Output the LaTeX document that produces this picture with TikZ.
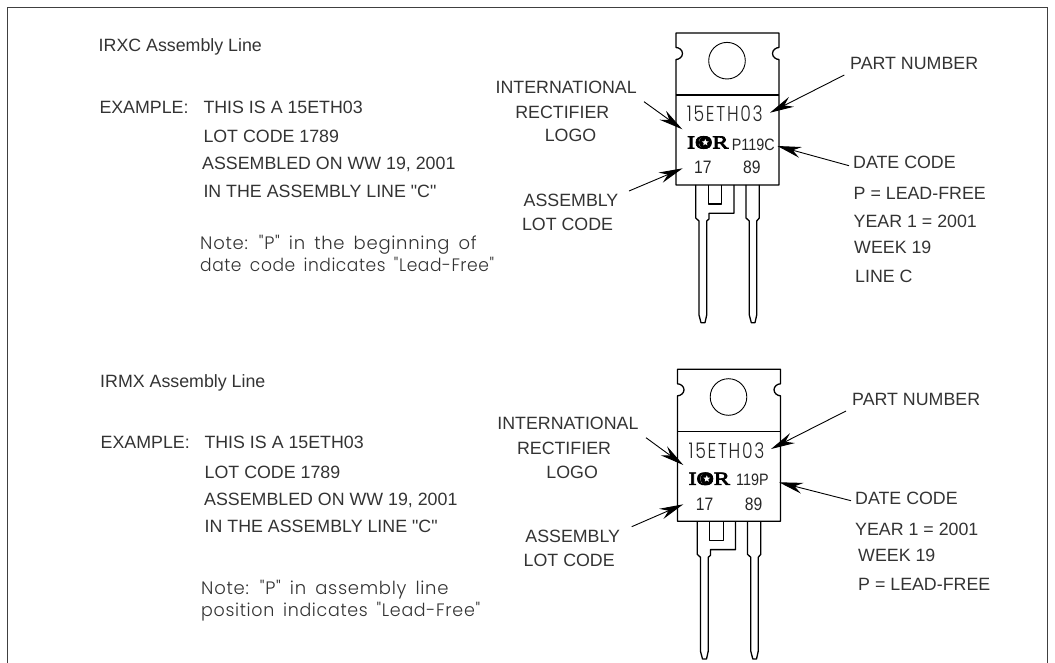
\documentclass[tikz,border=0pt]{standalone}
\usepackage{fontspec}
\newfontfamily\labelfont{Liberation Sans}
\newfontfamily\markfont[FakeStretch=0.87]{Liberation Sans}
\newfontfamily\notefont[LetterSpace=4,WordSpace=1.6]{Poppins Light}
\newfontfamily\notefontb[FakeStretch=0.95,LetterSpace=3,WordSpace=1.6]{Poppins Light}
\newfontfamily\notefontd[FakeStretch=0.97,LetterSpace=3.8,WordSpace=1.6]{Poppins Light}
\newfontfamily\cadfont[FakeStretch=0.8,LetterSpace=8]{Poppins Light}
\newfontfamily\logofont[FakeBold=4,FakeStretch=1.3]{Liberation Serif}
\usetikzlibrary{arrows.meta}
\usetikzlibrary{shapes.geometric}

\begin{document}
\begin{tikzpicture}[x=1pt, y=-1pt,
plaintext/.style={anchor=base west, inner sep=0pt, text=black!80, font=\labelfont\fontsize{17.8}{18}\selectfont},
midtext/.style={plaintext, anchor=base},
notetext/.style={anchor=base west, inner sep=0pt, text=black!80, font=\notefont\fontsize{18}{18}\selectfont},
notetextb/.style={notetext, font=\notefontb\fontsize{18}{18}\selectfont},
notetextd/.style={notetext, font=\notefontd\fontsize{18}{18}\selectfont},
marktext/.style={anchor=base west, inner sep=0pt, text=black!85, font=\markfont\fontsize{16.5}{17}\selectfont},
digittext/.style={marktext, font=\markfont\fontsize{18}{18}\selectfont},
cadtext/.style={anchor=base west, inner sep=0pt, text=black!85, font=\cadfont\fontsize{21.5}{22}\selectfont},
callout/.style={line width=0.9pt, arrows={-Stealth[length=24pt, width=11pt, inset=8pt]}},
outline/.style={line width=1.3pt, line join=round},
pics/topack/.style={code={
  % tab and body
  \draw[outline] (0,0) -- (103,0) -- (103,14.5)
    .. controls (100,14.5) and (96.5,17) .. (96.5,20.5)
    .. controls (96.5,24) and (100,26.5) .. (103,26.5)
    -- (103,152) -- (0,152) -- (0,26.5)
    .. controls (3,26.5) and (6.5,24) .. (6.5,20.5)
    .. controls (6.5,17) and (3,14.5) .. (0,14.5) -- cycle;
  \draw[outline] (0,62) -- (103,62);
  \draw[line width=0.9pt] (51,27.7) circle (18.3);
  % leads
  \draw[outline] (19.7,152) -- (19.7,185) -- (23,188) -- (23,282) -- (25,289.7) -- (29,289.7)
    -- (30.7,282) -- (30.7,188) -- (33,186) -- (33,180.3) -- (58,180.3) -- (58,152);
  \draw[outline] (32.3,152) -- (32.3,171) -- (45.7,171) -- (45.7,152);
  \draw[outline] (70,152) -- (70,185) -- (73.3,188) -- (73.3,282) -- (75.3,289.7) -- (79,289.7)
    -- (80.7,282) -- (80.7,188) -- (83.3,185) -- (83.3,152);
  % logo
  \node[inner sep=0pt] (logo) at (31.7,109.5) {\logofont\fontsize{18.5}{19}\selectfont IOR};
  \fill (29.3,109.5) circle (6.3);
  \node[star, star points=5, star point ratio=2.2, fill=white, inner sep=0pt, minimum size=7pt] (logostar) at (29.3,109.5) {};
}},
]
\useasboundingbox (0,0) rectangle (1055,663);
% frame
\draw[black!75, line width=1pt] (7.3,663) -- (7.3,7.5) -- (1047,7.5) -- (1047,663);
\pic (packa) at (676,33) {topack};
\pic (packb) at (677.5,369.3) {topack};
%Nodes
\node[plaintext] (linea) at (98.5,51.5) {IRXC Assembly Line};
\node[plaintext] (examplea) at (99.3,114) {EXAMPLE:};
\node[plaintext] (thisa) at (203.3,114) {THIS IS A 15ETH03};
\node[plaintext] (lota) at (203.3,142.7) {LOT CODE 1789};
\node[plaintext] (wwa) at (202,170) {ASSEMBLED ON WW 19, 2001};
\node[plaintext] (ina) at (203.3,197.7) {IN THE ASSEMBLY LINE "C"};
\node[notetext] (notea) at (200,250) {Note: "P" in the beginning of};
\node[notetextb] (noteb) at (200,271.7) {date code indicates "Lead-Free"};

\node[midtext] (intla) at (566.2,93.3) {INTERNATIONAL};
\node[midtext] (recta) at (562.3,118.3) {RECTIFIER};
\node[midtext] (logoa) at (570.5,142) {LOGO};
\node[midtext] (asma) at (571,206.7) {ASSEMBLY};
\node[midtext] (codea) at (567.5,230.7) {LOT CODE};

\node[cadtext] (parta) at (686.7,121.7) {15ETH03};
\node[marktext] (datea) at (731.7,150.7) {P119C};
\node[digittext] (lota1) at (694,174) {17};
\node[digittext] (lota2) at (743,174) {89};

\node[plaintext] (numa) at (850,69.3) {PART NUMBER};
\node[plaintext] (dca) at (853,168.3) {DATE CODE};
\node[plaintext] (lfa) at (853.5,199.3) {P = LEAD-FREE};
\node[plaintext] (yra) at (853.5,227.7) {YEAR 1 = 2001};
\node[plaintext] (wka) at (854,254) {WEEK 19};
\node[plaintext] (lca) at (855,282.3) {LINE C};

\node[plaintext] (lineb) at (100,387.3) {IRMX Assembly Line};
\node[plaintext] (exampleb) at (100.5,448.3) {EXAMPLE:};
\node[plaintext] (thisb) at (204.3,448.3) {THIS IS A 15ETH03};
\node[plaintext] (lotb) at (204.5,478.3) {LOT CODE 1789};
\node[plaintext] (wwb) at (204,505) {ASSEMBLED ON WW 19, 2001};
\node[plaintext] (inb) at (204.5,532.3) {IN THE ASSEMBLY LINE "C"};
\node[notetext] (notec) at (201,594) {Note: "P" in assembly line};
\node[notetextd] (noted) at (201,616) {position indicates "Lead-Free"};

\node[midtext] (intlb) at (567.9,429.3) {INTERNATIONAL};
\node[midtext] (rectb) at (564,454.3) {RECTIFIER};
\node[midtext] (logob) at (572.2,478) {LOGO};
\node[midtext] (asmb) at (572.7,542.7) {ASSEMBLY};
\node[midtext] (codeb) at (569.2,566.7) {LOT CODE};

\node[cadtext] (partb) at (688.4,458) {15ETH03};
\node[marktext] (dateb) at (736,485) {119P};
\node[digittext] (lotb1) at (695.7,510.3) {17};
\node[digittext] (lotb2) at (744.7,510.3) {89};

\node[plaintext] (numb) at (852,405.7) {PART NUMBER};
\node[plaintext] (dcb) at (855,504) {DATE CODE};
\node[plaintext] (yrb) at (855,535.7) {YEAR 1 = 2001};
\node[plaintext] (wkb) at (858,561.7) {WEEK 19};
\node[plaintext] (lfb) at (858,590) {P = LEAD-FREE};
% free ends of the callouts
\coordinate (logotaila) at (644,101.7);
\coordinate (logotipa) at (682.3,129.3);
\coordinate (asmtaila) at (629,191);
\coordinate (asmtipa) at (682.7,168.3);
\coordinate (numtaila) at (844.3,75);
\coordinate (numtipa) at (770,112.7);
\coordinate (dctaila) at (849,165.7);
\coordinate (dctipa) at (777.3,146);
\coordinate (logotailb) at (646,437.7);
\coordinate (logotipb) at (683.3,465);
\coordinate (asmtailb) at (631.7,526.7);
\coordinate (asmtipb) at (683.3,504.3);
\coordinate (numtailb) at (846,411);
\coordinate (numtipb) at (771,449);
\coordinate (dctailb) at (851,500.7);
\coordinate (dctipb) at (779,482.3);
%Lines
\draw[callout] (logotaila) -- (logotipa);
\draw[callout] (asmtaila) -- (asmtipa);
\draw[callout] (numtaila) -- (numtipa);
\draw[callout] (dctaila) -- (dctipa);
\draw[callout] (logotailb) -- (logotipb);
\draw[callout] (asmtailb) -- (asmtipb);
\draw[callout] (numtailb) -- (numtipb);
\draw[callout] (dctailb) -- (dctipb);
\end{tikzpicture}
\end{document}
